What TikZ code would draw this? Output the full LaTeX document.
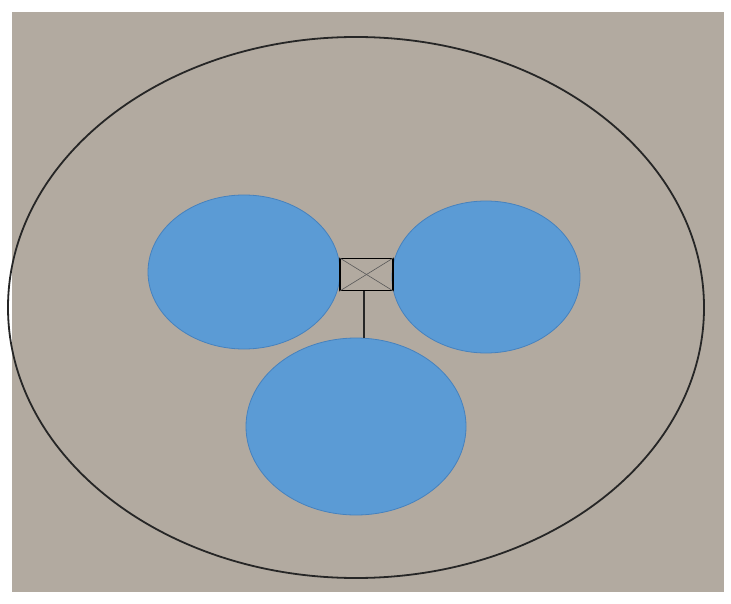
\documentclass[tikz,border=0pt]{standalone}
\usepackage{tikz}
\usetikzlibrary{shapes.geometric}

\definecolor{cardgray}{RGB}{178,170,160}
\definecolor{lobeblue}{RGB}{91,155,213}
\definecolor{lobeedge}{RGB}{70,130,190}

\tikzset{
  lobe/.style={ellipse, fill=lobeblue, draw=lobeedge, line width=0.4pt, inner sep=0pt},
  rim/.style={ellipse, draw=black!85, line width=0.9pt, inner sep=0pt}
}

\begin{document}
\begin{tikzpicture}[x=0.5pt, y=-0.5pt]
  \useasboundingbox (0,0) rectangle (731,603);
  \fill[white] (0,0) rectangle (731,603);
  \fill[cardgray] (12,12) rectangle (724,592);
  % outer outline
  \node[rim, minimum width=348pt, minimum height=270.5pt] (shell) at (356,307.5) {};
  % three blue lobes
  \node[lobe, minimum width=96pt, minimum height=77pt] (lobeL) at (244,272) {};
  \node[lobe, minimum width=94pt, minimum height=76pt] (lobeR) at (486,277) {};
  \node[lobe, minimum width=110pt, minimum height=88.5pt] (lobeB) at (356,426.5) {};
  % junction box
  \node[draw=black, line width=0.9pt, minimum width=26.5pt, minimum height=16pt, inner sep=0pt] (hub) at (366.5,274.5) {};
  \draw[gray!70!black, line width=0.3pt] (hub.north west) -- (hub.south east);
  \draw[gray!70!black, line width=0.3pt] (hub.south west) -- (hub.north east);
  \draw[black!85, line width=0.9pt] (hub.south -| 364,0) -- (lobeB.north -| 364,0);
\end{tikzpicture}
\end{document}
